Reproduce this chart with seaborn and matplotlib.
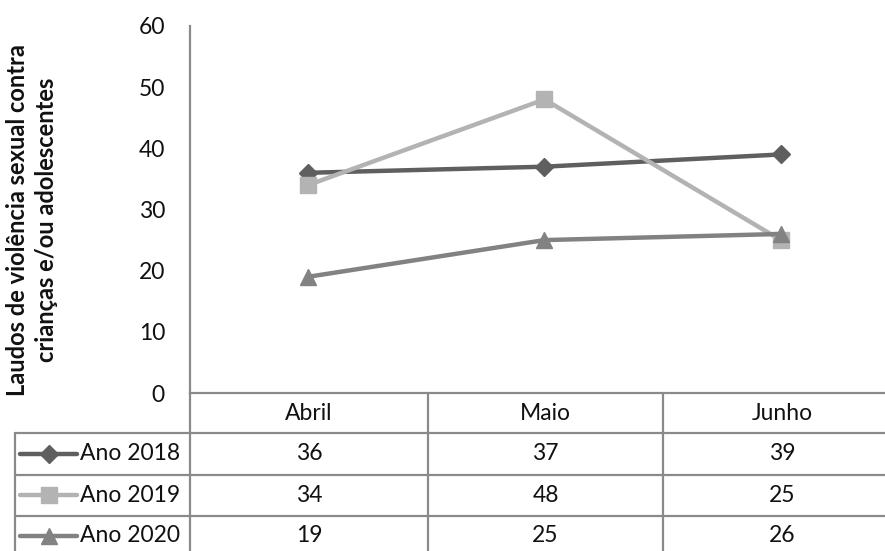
import matplotlib
matplotlib.use("Agg")
import matplotlib.pyplot as plt
from matplotlib.lines import Line2D
import seaborn as sns
import pandas as pd

# Data
months = ["Abril", "Maio", "Junho"]
series_names = ["Ano 2018", "Ano 2019", "Ano 2020"]
ano_2018 = [36, 37, 39]
ano_2019 = [34, 48, 25]
ano_2020 = [19, 25, 26]
y_ticks = [0, 10, 20, 30, 40, 50, 60]
y_label = "Laudos de violência sexual contra\ncrianças e/ou adolescentes"

values = [ano_2018, ano_2019, ano_2020]
colors = ["#5f5f5f", "#b3b3b3", "#828282"]
markers = ["D", "s", "^"]
msizes = [9, 11, 11]

sns.set_theme(style="white")
plt.rcParams["font.family"] = ["Lato", "DejaVu Sans"]

W, H = 885, 551
fig = plt.figure(figsize=(W / 100, H / 100), dpi=100)
FS = 16.5


def fx(x):
    return x / W


def fy(y):
    return 1 - y / H


# plot area geometry (pixels)
ax_left, ax_right, ax_top, ax_bottom = 190, 899, 26, 393
ax = fig.add_axes([fx(ax_left), fy(ax_bottom), fx(ax_right - ax_left),
                   (ax_bottom - ax_top) / H])

grid_col = "#8a8a8a"

for name, vals, c, m, s in zip(series_names, values, colors, markers, msizes):
    df = pd.DataFrame({"mes": list(range(len(months))), "valor": vals})
    sns.lineplot(data=df, x="mes", y="valor", ax=ax, color=c, marker=m,
                 ms=s, mec=c, mew=1, lw=3.2, legend=False)

ax.set_xlim(-0.5, len(months) - 0.5)
ax.set_ylim(0, 60)
ax.set_yticks(y_ticks)
ax.set_yticklabels([str(t) for t in y_ticks], fontsize=FS, color="#111111")
ax.set_xticks([])
ax.tick_params(axis="y", length=0, pad=18)
ax.set_xlabel("")
ax.set_ylabel("")
for side in ["top", "right"]:
    ax.spines[side].set_visible(False)
for side in ["left", "bottom"]:
    ax.spines[side].set_color(grid_col)
    ax.spines[side].set_linewidth(1.6)

fig.text(fx(32), fy(220), y_label, rotation=90, ha="center", va="center",
         fontsize=17, fontweight="bold", color="#111111", linespacing=1.3)

# data table below the plot
col_edges = [ax_left, 428, 663, ax_right]
row_lines = [433, 475, 516, 557]
lw_tab = 1.6


def hline(y, x0, x1):
    fig.add_artist(Line2D([fx(x0), fx(x1)], [fy(y), fy(y)], color=grid_col,
                          lw=lw_tab, transform=fig.transFigure))


def vline(x, y0, y1):
    fig.add_artist(Line2D([fx(x), fx(x)], [fy(y0), fy(y1)], color=grid_col,
                          lw=lw_tab, transform=fig.transFigure))


for y in row_lines:
    hline(y, 15, W + 5)
vline(ax_left, ax_bottom, H + 5)
vline(15, row_lines[0], H + 5)
for x in col_edges[1:3]:
    vline(x, ax_bottom, H + 5)

# header row with month names
for i, mth in enumerate(months):
    cx = (col_edges[i] + col_edges[i + 1]) / 2
    if i == 2:
        cx = 782
    fig.text(fx(cx), fy(413), mth, ha="center", va="center", fontsize=FS,
             color="#111111")

row_centers = [454, 495, 536]
for r, (name, vals, c, m, s) in enumerate(zip(series_names, values, colors,
                                              markers, msizes)):
    yc = row_centers[r]
    fig.add_artist(Line2D([fx(20), fx(77)], [fy(yc), fy(yc)], color=c,
                          lw=3.2, transform=fig.transFigure))
    fig.add_artist(Line2D([fx(48.5)], [fy(yc)], color=c, marker=m, ms=s,
                          mec=c, ls="none", transform=fig.transFigure))
    fig.text(fx(80), fy(yc), name, ha="left", va="center", fontsize=FS,
             color="#111111")
    for i, v in enumerate(vals):
        cx = (col_edges[i] + col_edges[i + 1]) / 2
        if i == 2:
            cx = 782
        fig.text(fx(cx), fy(yc), str(v), ha="center", va="center",
                 fontsize=FS, color="#111111")

fig.savefig("out.png", dpi=100)
